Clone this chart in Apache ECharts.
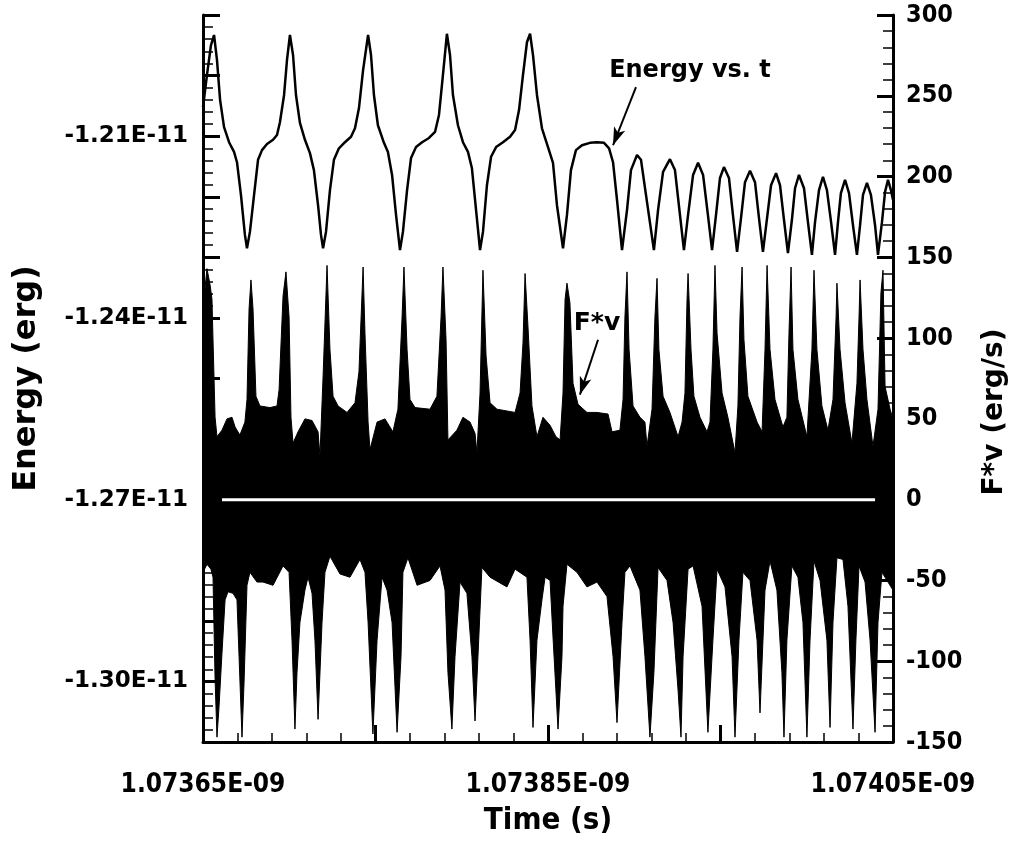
<!DOCTYPE html>
<html>
<head>
<meta charset="utf-8">
<script src="https://cdn.jsdelivr.net/npm/echarts/dist/echarts.min.js"></script>
<style>
  html, body { margin: 0; padding: 0; background: #fff; }
  #chart { width: 1016px; height: 846px; }
</style>
</head>
<body>
<div id="chart"></div>
<script>
// Time in ns (labels are written in seconds, E-09), energy in units of 1E-11 erg, F*v in erg/s.

// Total energy vs. time: [t (ns), E (1E-11 erg)]
const energyCurve = [
  [1.0736500,-1.2052],[1.0736523,-1.1999],[1.0736546,-1.1950],[1.0736564,-1.1933],[1.0736581,-1.1974],
  [1.0736599,-1.2040],[1.0736622,-1.2085],[1.0736651,-1.2110],[1.0736680,-1.2126],[1.0736697,-1.2143],
  [1.0736720,-1.2197],[1.0736743,-1.2263],[1.0736755,-1.2285],[1.0736772,-1.2258],[1.0736796,-1.2197],
  [1.0736819,-1.2139],[1.0736842,-1.2123],[1.0736871,-1.2113],[1.0736906,-1.2106],[1.0736929,-1.2098],
  [1.0736946,-1.2077],[1.0736970,-1.2032],[1.0736987,-1.1974],[1.0737004,-1.1933],[1.0737022,-1.1966],
  [1.0737039,-1.2032],[1.0737062,-1.2078],[1.0737091,-1.2106],[1.0737120,-1.2128],[1.0737143,-1.2156],
  [1.0737167,-1.2214],[1.0737184,-1.2263],[1.0737196,-1.2285],[1.0737213,-1.2258],[1.0737236,-1.2189],
  [1.0737259,-1.2139],[1.0737288,-1.2120],[1.0737323,-1.2110],[1.0737358,-1.2101],[1.0737381,-1.2087],
  [1.0737404,-1.2054],[1.0737428,-1.1991],[1.0737457,-1.1933],[1.0737474,-1.1966],[1.0737491,-1.2032],
  [1.0737514,-1.2082],[1.0737549,-1.2111],[1.0737572,-1.2126],[1.0737596,-1.2164],[1.0737619,-1.2230],
  [1.0737642,-1.2288],[1.0737659,-1.2258],[1.0737683,-1.2189],[1.0737706,-1.2136],[1.0737735,-1.2118],
  [1.0737770,-1.2110],[1.0737810,-1.2103],[1.0737845,-1.2093],[1.0737868,-1.2065],[1.0737891,-1.1999],
  [1.0737914,-1.1931],[1.0737932,-1.1966],[1.0737949,-1.2032],[1.0737978,-1.2082],[1.0738007,-1.2110],
  [1.0738036,-1.2126],[1.0738059,-1.2153],[1.0738083,-1.2222],[1.0738106,-1.2288],[1.0738123,-1.2258],
  [1.0738146,-1.2181],[1.0738170,-1.2134],[1.0738199,-1.2118],[1.0738239,-1.2110],[1.0738280,-1.2101],
  [1.0738309,-1.2090],[1.0738332,-1.2057],[1.0738355,-1.1999],[1.0738378,-1.1945],[1.0738396,-1.1931],
  [1.0738413,-1.1966],[1.0738436,-1.2032],[1.0738465,-1.2087],[1.0738500,-1.2118],[1.0738529,-1.2144],
  [1.0738552,-1.2214],[1.0738587,-1.2285],[1.0738610,-1.2230],[1.0738633,-1.2156],[1.0738662,-1.2123],
  [1.0738697,-1.2115],[1.0738743,-1.2111],[1.0738784,-1.2110],[1.0738825,-1.2111],[1.0738854,-1.2120],
  [1.0738877,-1.2143],[1.0738900,-1.2205],[1.0738929,-1.2288],[1.0738958,-1.2222],[1.0738981,-1.2156],
  [1.0739016,-1.2131],[1.0739039,-1.2139],[1.0739068,-1.2197],[1.0739114,-1.2288],[1.0739138,-1.2222],
  [1.0739167,-1.2159],[1.0739207,-1.2138],[1.0739236,-1.2156],[1.0739265,-1.2230],[1.0739288,-1.2288],
  [1.0739312,-1.2230],[1.0739341,-1.2164],[1.0739370,-1.2144],[1.0739399,-1.2164],[1.0739427,-1.2230],
  [1.0739451,-1.2288],[1.0739474,-1.2230],[1.0739497,-1.2169],[1.0739520,-1.2151],[1.0739549,-1.2169],
  [1.0739572,-1.2230],[1.0739596,-1.2291],[1.0739619,-1.2235],[1.0739642,-1.2176],[1.0739671,-1.2157],
  [1.0739700,-1.2176],[1.0739723,-1.2235],[1.0739746,-1.2291],[1.0739770,-1.2235],[1.0739793,-1.2181],
  [1.0739822,-1.2161],[1.0739845,-1.2181],[1.0739868,-1.2238],[1.0739891,-1.2293],[1.0739914,-1.2238],
  [1.0739932,-1.2186],[1.0739955,-1.2164],[1.0739984,-1.2186],[1.0740007,-1.2242],[1.0740030,-1.2296],
  [1.0740048,-1.2242],[1.0740071,-1.2189],[1.0740094,-1.2167],[1.0740117,-1.2189],[1.0740141,-1.2242],
  [1.0740164,-1.2296],[1.0740181,-1.2242],[1.0740198,-1.2194],[1.0740222,-1.2172],[1.0740245,-1.2194],
  [1.0740268,-1.2247],[1.0740291,-1.2296],[1.0740309,-1.2247],[1.0740326,-1.2197],[1.0740349,-1.2177],
  [1.0740372,-1.2197],[1.0740396,-1.2247],[1.0740413,-1.2296],[1.0740436,-1.2242],[1.0740454,-1.2192],
  [1.0740471,-1.2172],[1.0740488,-1.2189],[1.0740500,-1.2205]
];

// Upper envelope of the fast-oscillating F*v signal: [t (ns), erg/s]
const fvUpper = [
  [1.0736500,99],[1.0736512,131],[1.0736523,143],[1.0736541,133],[1.0736552,124],[1.0736558,99],
  [1.0736570,51],[1.0736581,39],[1.0736610,43],[1.0736639,50],[1.0736668,51],[1.0736686,45],
  [1.0736714,40],[1.0736743,48],[1.0736755,62],[1.0736767,118],[1.0736778,136],[1.0736790,118],
  [1.0736807,64],[1.0736830,58],[1.0736888,57],[1.0736929,58],[1.0736941,68],[1.0736964,126],
  [1.0736981,141],[1.0736999,113],[1.0737010,51],[1.0737022,35],[1.0737051,42],[1.0737091,50],
  [1.0737132,49],[1.0737167,42],[1.0737178,27],[1.0737196,76],[1.0737219,145],[1.0737236,93],
  [1.0737254,64],[1.0737283,58],[1.0737335,54],[1.0737381,60],[1.0737404,79],[1.0737428,144],
  [1.0737439,103],[1.0737457,48],[1.0737468,31],[1.0737509,48],[1.0737555,50],[1.0737601,42],
  [1.0737630,56],[1.0737654,113],[1.0737665,144],[1.0737683,93],[1.0737700,62],[1.0737729,57],
  [1.0737816,56],[1.0737856,64],[1.0737880,113],[1.0737891,144],[1.0737909,99],[1.0737920,37],
  [1.0737972,43],[1.0738007,51],[1.0738048,48],[1.0738077,41],[1.0738088,29],[1.0738106,66],
  [1.0738123,142],[1.0738141,89],[1.0738164,60],[1.0738204,56],[1.0738309,54],[1.0738338,66],
  [1.0738355,97],[1.0738367,140],[1.0738384,107],[1.0738407,58],[1.0738436,39],[1.0738471,51],
  [1.0738512,46],[1.0738546,39],[1.0738570,37],[1.0738587,66],[1.0738599,124],[1.0738610,134],
  [1.0738627,122],[1.0738645,72],[1.0738674,59],[1.0738726,54],[1.0738784,54],[1.0738848,53],
  [1.0738871,42],[1.0738917,43],[1.0738935,62],[1.0738946,113],[1.0738958,141],[1.0738970,93],
  [1.0738993,58],[1.0739033,51],[1.0739062,48],[1.0739074,33],[1.0739103,56],[1.0739120,113],
  [1.0739132,137],[1.0739143,93],[1.0739167,64],[1.0739207,54],[1.0739254,39],[1.0739277,48],
  [1.0739294,66],[1.0739306,124],[1.0739312,140],[1.0739329,93],[1.0739346,64],[1.0739381,51],
  [1.0739422,42],[1.0739439,48],[1.0739456,93],[1.0739468,145],[1.0739480,103],[1.0739509,66],
  [1.0739543,51],[1.0739584,29],[1.0739601,58],[1.0739613,113],[1.0739625,144],[1.0739636,99],
  [1.0739659,64],[1.0739712,48],[1.0739741,42],[1.0739758,93],[1.0739770,145],[1.0739787,93],
  [1.0739816,62],[1.0739862,45],[1.0739885,51],[1.0739897,103],[1.0739909,144],[1.0739920,93],
  [1.0739949,62],[1.0740001,39],[1.0740030,93],[1.0740042,142],[1.0740059,93],[1.0740088,58],
  [1.0740123,43],[1.0740152,62],[1.0740170,113],[1.0740175,134],[1.0740193,93],[1.0740222,60],
  [1.0740262,35],[1.0740291,72],[1.0740303,113],[1.0740309,136],[1.0740326,93],[1.0740349,62],
  [1.0740384,33],[1.0740413,56],[1.0740430,128],[1.0740442,142],[1.0740454,70],[1.0740483,56],
  [1.0740500,50]
];

// Lower envelope of the F*v signal: [t (ns), erg/s]
const fvLower = [
  [1.0736500,-45],[1.0736523,-40],[1.0736546,-43],[1.0736558,-48],[1.0736570,-111],[1.0736581,-147],
  [1.0736593,-128],[1.0736610,-95],[1.0736628,-62],[1.0736645,-57],[1.0736674,-58],[1.0736697,-62],
  [1.0736709,-97],[1.0736726,-147],[1.0736738,-113],[1.0736755,-53],[1.0736772,-45],[1.0736813,-51],
  [1.0736848,-51],[1.0736906,-53],[1.0736964,-41],[1.0736999,-45],[1.0737016,-87],[1.0737033,-142],
  [1.0737045,-107],[1.0737062,-76],[1.0737091,-56],[1.0737109,-48],[1.0737132,-58],[1.0737149,-87],
  [1.0737167,-136],[1.0737190,-76],[1.0737207,-45],[1.0737236,-35],[1.0737294,-46],[1.0737352,-48],
  [1.0737410,-37],[1.0737439,-45],[1.0737457,-76],[1.0737485,-145],[1.0737509,-87],[1.0737538,-48],
  [1.0737567,-56],[1.0737596,-76],[1.0737625,-144],[1.0737648,-97],[1.0737659,-45],[1.0737688,-36],
  [1.0737741,-53],[1.0737816,-50],[1.0737874,-41],[1.0737903,-56],[1.0737920,-107],[1.0737943,-142],
  [1.0737961,-97],[1.0737990,-51],[1.0738030,-58],[1.0738059,-97],[1.0738077,-137],[1.0738094,-97],
  [1.0738117,-42],[1.0738164,-48],[1.0738262,-54],[1.0738309,-43],[1.0738378,-48],[1.0738396,-87],
  [1.0738413,-141],[1.0738436,-87],[1.0738465,-62],[1.0738483,-48],[1.0738512,-50],[1.0738529,-85],
  [1.0738558,-142],[1.0738581,-97],[1.0738587,-66],[1.0738610,-40],[1.0738668,-45],[1.0738726,-54],
  [1.0738784,-51],[1.0738842,-60],[1.0738877,-97],[1.0738900,-138],[1.0738929,-76],[1.0738946,-45],
  [1.0738975,-41],[1.0739033,-56],[1.0739062,-97],[1.0739091,-147],[1.0739114,-107],[1.0739138,-42],
  [1.0739190,-50],[1.0739225,-76],[1.0739254,-118],[1.0739271,-147],[1.0739283,-97],[1.0739312,-43],
  [1.0739341,-41],[1.0739393,-66],[1.0739427,-144],[1.0739456,-87],[1.0739480,-43],[1.0739526,-54],
  [1.0739567,-97],[1.0739584,-147],[1.0739607,-87],[1.0739630,-45],[1.0739671,-50],[1.0739712,-87],
  [1.0739729,-132],[1.0739758,-56],[1.0739787,-38],[1.0739827,-56],[1.0739856,-107],[1.0739868,-147],
  [1.0739885,-87],[1.0739914,-41],[1.0739949,-48],[1.0739978,-76],[1.0740001,-147],[1.0740019,-87],
  [1.0740042,-38],[1.0740077,-50],[1.0740117,-87],[1.0740135,-141],[1.0740152,-76],[1.0740175,-36],
  [1.0740210,-37],[1.0740239,-66],[1.0740268,-142],[1.0740285,-87],[1.0740303,-41],[1.0740338,-51],
  [1.0740367,-87],[1.0740396,-144],[1.0740413,-76],[1.0740436,-45],[1.0740471,-51],[1.0740500,-56]
];

// Time-averaged F*v (zero) line
const fvMean = [[1.0736610, 0], [1.0740396, 0]];

// Tick values that carry a label
const timeLabelTicks = [1.07365, 1.07385, 1.07405];
const energyLabelTicks = [-1.30, -1.27, -1.24, -1.21];

// Callouts: text anchor and arrow (from, to) in data coordinates
const energyNote = { text: 'Energy vs. t', at: [1.0739323, -1.1992], from: [1.0739010, -1.2019], to: [1.0738877, -1.2115] };
const fvNote = { text: 'F*v', at: [1.0738784, 109], from: [1.0738790, 99], to: [1.0738685, 65] };

const FONT = 'DejaVu Sans';
const FONT_NARROW = '"DejaVu Sans Condensed", "DejaVu Sans"';
const BLACK = '#000';

function calloutMarks(note, size) {
  return {
    markLine: {
      silent: true,
      symbol: ['none', 'arrow'],
      symbolSize: [9, 18],
      label: { show: false },
      lineStyle: { color: BLACK, width: 2, type: 'solid' },
      emphasis: { disabled: true },
      data: [[{ coord: note.from }, { coord: note.to }]]
    },
    markPoint: {
      silent: true,
      symbol: 'rect',
      symbolSize: 1,
      itemStyle: { color: 'rgba(0,0,0,0)' },
      label: {
        show: true, position: 'inside', formatter: '{b}',
        color: BLACK, fontFamily: FONT, fontWeight: 'bold', fontSize: size
      },
      data: [{ name: note.text, coord: note.at }]
    }
  };
}

const chart = echarts.init(document.getElementById('chart'), null, { renderer: 'canvas' });

chart.setOption({
  animation: false,
  backgroundColor: '#fff',
  grid: { left: 203, right: 123, top: 15, bottom: 104, containLabel: false, outerBoundsMode: 'none' },
  xAxis: {
    type: 'value',
    min: 1.07365, max: 1.07405, interval: 0.0001,
    z: 10,
    axisLine: { show: true, onZero: false, lineStyle: { color: BLACK, width: 3 } },
    axisTick: { show: true, inside: true, length: 17, lineStyle: { color: BLACK, width: 3 } },
    minorTick: { show: true, splitNumber: 5, length: 9, lineStyle: { color: BLACK, width: 1.5 } },
    splitLine: { show: false },
    axisLabel: {
      color: BLACK, fontFamily: FONT_NARROW, fontWeight: 'bold', fontSize: 26, margin: 30,
      formatter: v => timeLabelTicks.some(t => Math.abs(t - v) < 1e-9) ? v.toFixed(5) + 'E-09' : ''
    },
    name: 'Time (s)', nameLocation: 'middle', nameGap: 63,
    nameTextStyle: { color: BLACK, fontFamily: FONT_NARROW, fontWeight: 'bold', fontSize: 31 }
  },
  yAxis: [
    {
      type: 'value', position: 'left',
      min: -1.31, max: -1.19, interval: 0.01,
      z: 10,
      axisLine: { show: true, onZero: false, lineStyle: { color: BLACK, width: 3 } },
      axisTick: { show: true, inside: true, length: 17, lineStyle: { color: BLACK, width: 3 } },
      minorTick: { show: true, splitNumber: 5, length: 10, lineStyle: { color: BLACK, width: 1.5 } },
      splitLine: { show: false },
      axisLabel: {
        color: BLACK, fontFamily: FONT, fontWeight: 'bold', fontSize: 23, margin: 15,
        formatter: v => energyLabelTicks.some(t => Math.abs(t - v) < 1e-6) ? v.toFixed(2) + 'E-11' : ''
      },
      name: 'Energy (erg)', nameLocation: 'middle', nameGap: 160,
      nameTextStyle: { color: BLACK, fontFamily: FONT, fontWeight: 'bold', fontSize: 32 }
    },
    {
      type: 'value', position: 'right',
      min: -150, max: 300, interval: 50,
      z: 10,
      axisLine: { show: true, onZero: false, lineStyle: { color: BLACK, width: 3 } },
      axisTick: { show: true, inside: true, length: 16, lineStyle: { color: BLACK, width: 3 } },
      minorTick: { show: true, splitNumber: 5, length: 10, lineStyle: { color: BLACK, width: 1.5 } },
      splitLine: { show: false },
      axisLabel: { color: BLACK, fontFamily: FONT_NARROW, fontWeight: 'bold', fontSize: 25, margin: 13 }
    }
  ],
  graphic: [{
    type: 'text', x: 995, y: 412, rotation: Math.PI / 2, silent: true,
    style: { text: 'F*v (erg/s)', fill: BLACK, font: 'bold 28px "DejaVu Sans"', align: 'center', verticalAlign: 'middle' }
  }],
  series: [
    {
      name: 'F*v upper', type: 'line', yAxisIndex: 1, data: fvUpper,
      symbol: 'none', silent: true, z: 1,
      lineStyle: { color: BLACK, width: 1 },
      areaStyle: { color: BLACK, opacity: 1, origin: 'start' }
    },
    {
      name: 'F*v lower', type: 'line', yAxisIndex: 1, data: fvLower,
      symbol: 'none', silent: true, z: 1,
      lineStyle: { color: BLACK, width: 1 },
      areaStyle: { color: '#fff', opacity: 1, origin: 'start' }
    },
    Object.assign({
      name: 'F*v mean', type: 'line', yAxisIndex: 1, data: fvMean,
      symbol: 'none', silent: true, z: 3,
      lineStyle: { color: '#fff', width: 3 }
    }, calloutMarks(fvNote, 25)),
    Object.assign({
      name: 'Energy', type: 'line', yAxisIndex: 0, data: energyCurve,
      symbol: 'none', silent: true, z: 4,
      lineStyle: { color: BLACK, width: 2.5 }
    }, calloutMarks(energyNote, 24))
  ]
});
</script>
</body>
</html>
